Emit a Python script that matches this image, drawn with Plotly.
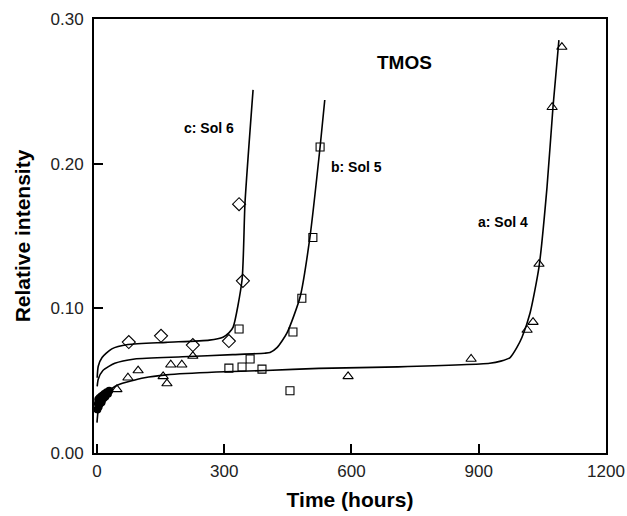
import plotly.graph_objects as go

# ---- data ----
# Sol 4 (a) : triangles
sol4_t = [47, 73, 97, 156, 165, 174, 200, 226, 592, 882, 1014, 1028, 1042, 1073, 1096]
sol4_y = [0.044, 0.052, 0.057, 0.053, 0.048, 0.061, 0.061, 0.067, 0.053, 0.065, 0.085, 0.0905, 0.1306, 0.239, 0.2806]
# Sol 5 (b) : squares
sol5_t = [311, 342, 335, 361, 389, 455, 462, 483, 509, 526]
sol5_y = [0.0587, 0.0594, 0.0857, 0.065, 0.058, 0.043, 0.0836, 0.107, 0.149, 0.2115]
# Sol 6 (c) : diamonds
sol6_t = [75, 151, 226, 311, 344, 335]
sol6_y = [0.0767, 0.081, 0.0746, 0.0774, 0.119, 0.172]
# early measurements (filled)
early_t = [1, 2, 3, 4, 5, 6, 7, 8, 10, 11, 12, 14, 16, 18, 20, 23, 26, 29]
early_y = [0.030, 0.034, 0.037, 0.032, 0.035, 0.038, 0.034, 0.036, 0.039, 0.035, 0.037, 0.040, 0.038, 0.041, 0.039, 0.042, 0.041, 0.043]

# fitted curves
fit_a_t = [0, 3, 8, 19, 49, 112, 163, 281, 398, 523, 710, 926, 952, 974, 990, 1002, 1021, 1042, 1061, 1075, 1089]
fit_a_y = [0.021, 0.030, 0.036, 0.041, 0.047, 0.052, 0.054, 0.056, 0.057, 0.0585, 0.0595, 0.062, 0.0635, 0.066, 0.073, 0.080, 0.0968, 0.1285, 0.184, 0.239, 0.2854]
fit_b_t = [0.5, 3, 14, 42, 89, 202, 320, 395, 408, 425, 448, 479, 502, 526, 537]
fit_b_y = [0.046, 0.051, 0.057, 0.062, 0.065, 0.0665, 0.068, 0.069, 0.0695, 0.073, 0.083, 0.108, 0.149, 0.2115, 0.244]
fit_c_t = [0.5, 3, 12, 35, 73, 163, 265, 297, 311, 321, 342, 349, 368]
fit_c_y = [0.052, 0.060, 0.066, 0.072, 0.075, 0.0765, 0.078, 0.080, 0.083, 0.087, 0.1196, 0.173, 0.251]

x_ticks = [0, 300, 600, 900, 1200]
y_ticks = [0.0, 0.1, 0.2, 0.3]
y_ticktext = ["0.00", "0.10", "0.20", "0.30"]

labels_text = ["TMOS", "c: Sol 6", "b: Sol 5", "a: Sol 4"]
labels_x = [726, 264, 611, 957]
labels_y = [0.270, 0.225, 0.198, 0.160]

FONT = "Liberation Sans, Arial, Helvetica, sans-serif"

fig = go.Figure()
for t, y in [(fit_a_t, fit_a_y), (fit_b_t, fit_b_y), (fit_c_t, fit_c_y)]:
    fig.add_trace(go.Scatter(x=t, y=y, mode="lines",
                             line=dict(color="black", width=1.6, shape="spline", smoothing=0.6),
                             hoverinfo="skip", showlegend=False))

fig.add_trace(go.Scatter(x=sol4_t, y=sol4_y, mode="markers",
                         marker=dict(symbol="triangle-up-open", size=9, color="black", line=dict(width=1.1)),
                         showlegend=False))
fig.add_trace(go.Scatter(x=sol5_t, y=sol5_y, mode="markers",
                         marker=dict(symbol="square-open", size=8, color="black", line=dict(width=1.1)),
                         showlegend=False))
fig.add_trace(go.Scatter(x=sol6_t, y=sol6_y, mode="markers",
                         marker=dict(symbol="diamond-open", size=10, color="black", line=dict(width=1.1)),
                         showlegend=False))
fig.add_trace(go.Scatter(x=early_t, y=early_y, mode="markers",
                         marker=dict(symbol="circle", size=8, color="black"),
                         showlegend=False))

for i, (txt, lx, ly) in enumerate(zip(labels_text, labels_x, labels_y)):
    fig.add_annotation(x=lx, y=ly, text=f"<b>{txt}</b>", showarrow=False,
                       font=dict(family=FONT, size=19 if i == 0 else 14, color="black"))

axis_common = dict(showline=True, linewidth=2, linecolor="black", mirror=True,
                   ticks="inside", ticklen=9, tickwidth=2, tickcolor="black",
                   showgrid=False, zeroline=False, automargin=False,
                   tickfont=dict(family=FONT, size=17, color="#222"))

fig.update_xaxes(range=[-7, 1200], tickvals=x_ticks, ticklabelstandoff=2,
                 title=dict(text="<b>Time (hours)</b>", font=dict(family=FONT, size=21, color="black"), standoff=12),
                 **axis_common)
fig.update_yaxes(range=[0, 0.30], tickvals=y_ticks, ticktext=y_ticktext, ticklabelstandoff=5,
                 title=dict(text="<b>Relative intensity</b>", font=dict(family=FONT, size=21, color="black"), standoff=14),
                 **axis_common)

fig.update_layout(width=627, height=516, margin=dict(l=94, r=21, t=19, b=63),
                  plot_bgcolor="white", paper_bgcolor="white", showlegend=False)

fig.write_html("out.html")
